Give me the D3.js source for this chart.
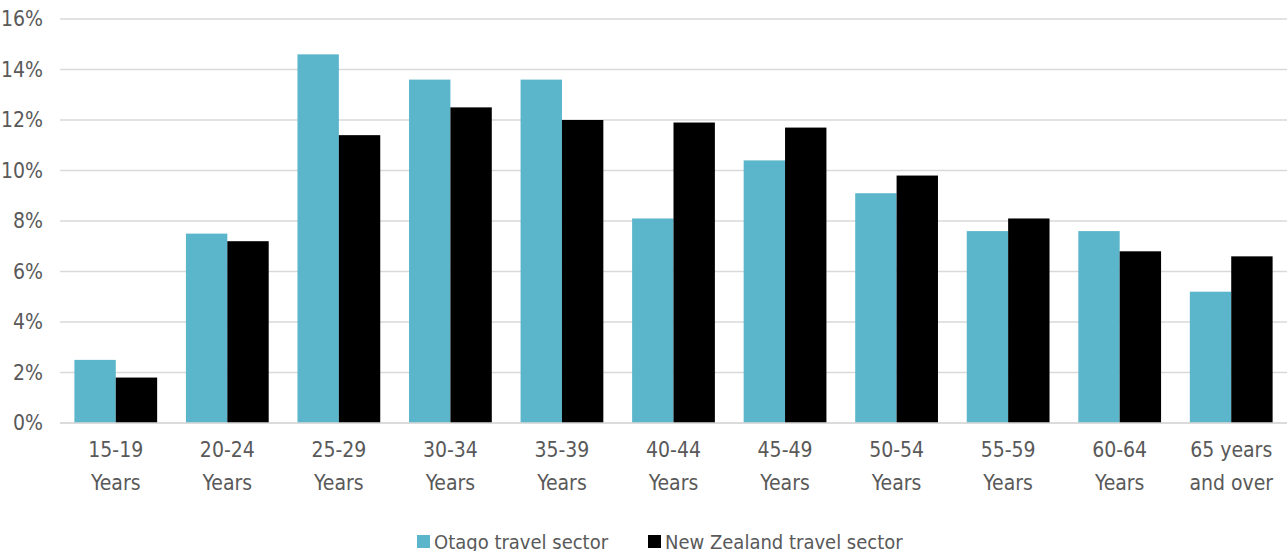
<!DOCTYPE html>
<html>
<head>
<meta charset="utf-8">
<script src="https://cdn.jsdelivr.net/npm/d3@7"></script>
<style>
  html, body { margin: 0; padding: 0; background: #fff; }
  svg { display: block; }
  text { font-family: "Liberation Sans Narrow", "DejaVu Sans Condensed", sans-serif; fill: #595959; }
</style>
</head>
<body>
<svg id="chart" width="1287" height="551"></svg>
<script>
// Age groups along the x axis (two-line labels)
const categories = [
  ["15-19", "Years"], ["20-24", "Years"], ["25-29", "Years"], ["30-34", "Years"],
  ["35-39", "Years"], ["40-44", "Years"], ["45-49", "Years"], ["50-54", "Years"],
  ["55-59", "Years"], ["60-64", "Years"], ["65 years", "and over"]
];
const seriesNames = ["Otago travel sector", "New Zealand travel sector"];
const seriesColors = ["#5bb6cb", "#000000"];
// Share of employment by age group (%)
const otago = [2.5, 7.5, 14.6, 13.6, 13.6, 8.1, 10.4, 9.1, 7.6, 7.6, 5.2];
const newZealand = [1.8, 7.2, 11.4, 12.5, 12.0, 11.9, 11.7, 9.8, 8.1, 6.8, 6.6];
const yTicks = [0, 2, 4, 6, 8, 10, 12, 14, 16];

const svg = d3.select("#chart");
const margin = { left: 60, right: 0, top: 19, bottom: 128 };
const W = 1287, H = 551;
const plotBottom = H - margin.bottom;

const keys = categories.map(c => c.join(" "));
const x0 = d3.scaleBand().domain(keys).range([margin.left, W - margin.right])
  .paddingInner(0.258).paddingOuter(0.129);
const x1 = d3.scaleBand().domain(seriesNames).range([0, x0.bandwidth()]);
const y = d3.scaleLinear().domain([0, 16]).range([plotBottom, margin.top]);

// Horizontal gridlines
svg.append("g").selectAll("line").data(yTicks).join("line")
  .attr("x1", margin.left).attr("x2", W - margin.right)
  .attr("y1", d => y(d)).attr("y2", d => y(d))
  .attr("stroke", "#d9d9d9").attr("stroke-width", 1.6);

// Y axis labels
const yAxis = d3.axisLeft(y).tickValues(yTicks).tickFormat(d => d + "%").tickSize(0).tickPadding(0);
const yg = svg.append("g").attr("transform", `translate(${margin.left - 17},0)`).call(yAxis);
yg.select(".domain").remove();
yg.selectAll("text").attr("font-size", 21).attr("fill", "#595959")
  .style("font-family", '"Liberation Sans Narrow", "DejaVu Sans Condensed", sans-serif');

// Bars
const rows = keys.map((k, i) => ({ key: k, values: [otago[i], newZealand[i]] }));
const groups = svg.append("g").selectAll("g").data(rows).join("g")
  .attr("transform", d => `translate(${x0(d.key)},0)`);
groups.selectAll("rect").data(d => d.values.map((v, j) => ({ name: seriesNames[j], v, j })))
  .join("rect")
  .attr("x", d => x1(d.name))
  .attr("width", x1.bandwidth())
  .attr("y", d => y(d.v))
  .attr("height", d => y(0) - y(d.v))
  .attr("fill", d => seriesColors[d.j]);

// Baseline
svg.append("line").attr("x1", margin.left).attr("x2", W - margin.right)
  .attr("y1", y(0)).attr("y2", y(0)).attr("stroke", "#d9d9d9").attr("stroke-width", 1.6);

// X axis labels
const xg = svg.append("g");
categories.forEach((c, i) => {
  const cx = x0(keys[i]) + x0.bandwidth() / 2;
  const t = xg.append("text").attr("text-anchor", "middle").attr("font-size", 21);
  t.append("tspan").attr("x", cx).attr("y", 457).text(c[0]);
  t.append("tspan").attr("x", cx).attr("y", 490).text(c[1]);
});

// Legend along the bottom edge
const legend = svg.append("g");
const legendX = [417, 648];
seriesNames.forEach((name, i) => {
  legend.append("rect").attr("x", legendX[i]).attr("y", 535).attr("width", 13).attr("height", 13)
    .attr("fill", seriesColors[i]);
  legend.append("text").attr("x", legendX[i] + 17).attr("y", 549).attr("font-size", 20).text(name);
});
</script>
</body>
</html>
